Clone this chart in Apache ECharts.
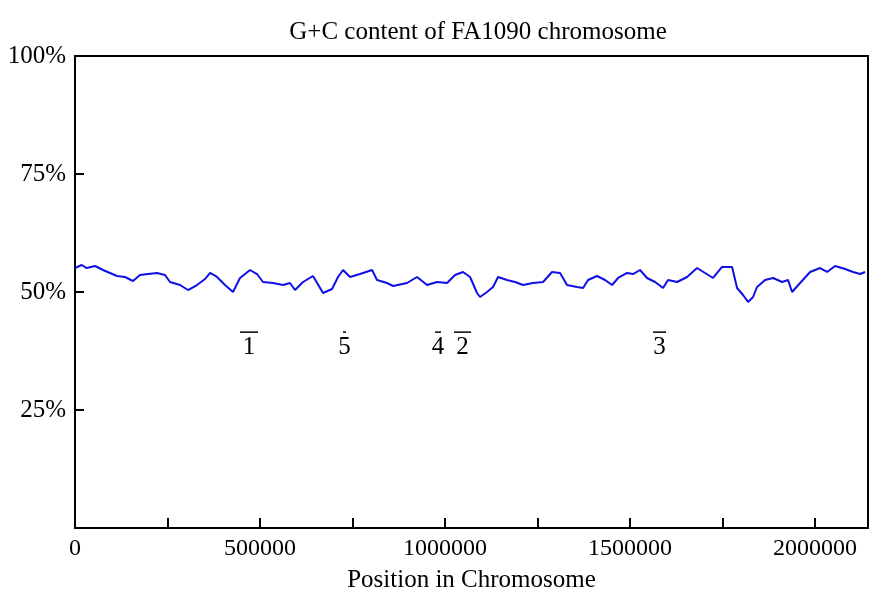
<!DOCTYPE html>
<html>
<head>
<meta charset="utf-8">
<script src="https://cdn.jsdelivr.net/npm/echarts@6/dist/echarts.min.js"></script>
<style>html,body{margin:0;padding:0;background:#fff}#c{width:880px;height:599px}</style>
</head>
<body>
<div id="c"></div>
<script>
// Position along chromosome (bp)
const positions = [0,18100,31600,54100,75700,94600,113500,135100,156800,175700,197300,221600,243200,256800,283800,305400,329700,351400,364900,383800,405400,427000,445900,473000,491900,508100,535100,562200,581100,594600,616200,643200,670300,694600,710800,724300,743200,770300,802700,816200,843200,859500,897300,924300,951400,978400,1005400,1027000,1048600,1067600,1086500,1094600,1113500,1129700,1143200,1167600,1189200,1210800,1237800,1264900,1289200,1310800,1329700,1356800,1373000,1386500,1410800,1432400,1451400,1467600,1491900,1508100,1527000,1545900,1567600,1589200,1602700,1627000,1654100,1681100,1702700,1724300,1748600,1775700,1789200,1805400,1818900,1832400,1843200,1864900,1886500,1910800,1927000,1937800,1959500,1986500,2013500,2032400,2054100,2081100,2102700,2121600,2135100];
// G+C content (%)
const gcContent = [55.08,55.72,55.08,55.51,54.66,54.03,53.39,53.18,52.33,53.60,53.81,54.03,53.60,52.12,51.48,50.42,51.48,52.75,54.03,53.18,51.48,50.00,52.97,54.66,53.81,52.12,51.91,51.48,51.91,50.42,52.12,53.39,49.79,50.64,53.18,54.66,53.18,53.81,54.66,52.54,51.91,51.27,51.91,53.18,51.48,52.12,51.91,53.60,54.24,53.18,49.79,48.94,50.00,51.06,53.18,52.54,52.12,51.48,51.91,52.12,54.24,54.03,51.48,51.06,50.85,52.54,53.39,52.54,51.48,52.97,54.03,53.81,54.66,52.97,52.12,50.85,52.54,52.12,53.18,55.08,54.03,52.97,55.30,55.30,50.85,49.36,47.88,48.94,51.06,52.54,52.97,52.12,52.54,50.00,51.91,54.24,55.08,54.24,55.51,54.87,54.24,53.81,54.24];

// Marked regions
const regionLabels = ['1','5','4','2','3'];
const regionStart = [445900,724300,973000,1024300,1562200];
const regionEnd   = [494600,732400,989200,1070300,1597300];

const yTicks = [0,25,50,75,100];
const xMax = 2143000;

const FONT = '"Liberation Serif","Times New Roman",serif';
const BAR_LEVEL = 41.5;

const chart = echarts.init(document.getElementById('c'));
const lineData = positions.map((p,i)=>[p,gcContent[i]]);
const regionData = regionStart.map((s,i)=>[s,regionEnd[i]]);

chart.setOption({
  animation:false,
  backgroundColor:'#fff',
  title:{
    text:'G+C content of FA1090 chromosome',
    left:473, textAlign:'center', top:15,
    textStyle:{fontFamily:FONT,fontSize:25,fontWeight:'normal',color:'#000'}
  },
  grid:{left:75,right:12,top:56,bottom:71,show:true,borderColor:'#000',borderWidth:2,backgroundColor:'transparent'},
  xAxis:{
    type:'value',min:0,max:xMax,interval:250000,
    name:'Position in Chromosome',nameLocation:'middle',nameGap:40,
    nameTextStyle:{fontFamily:FONT,fontSize:25,color:'#000'},
    axisLine:{show:true,lineStyle:{color:'#000',width:2}},
    axisTick:{show:true,inside:true,length:10,lineStyle:{color:'#000',width:2}},
    splitLine:{show:false},
    axisLabel:{
      showMaxLabel:false,margin:9,
      fontFamily:FONT,fontSize:24,color:'#000',
      formatter:v=> (v%500000===0)? String(v) : ''
    }
  },
  yAxis:{
    type:'value',min:yTicks[0],max:yTicks[yTicks.length-1],interval:25,
    axisLine:{show:true,lineStyle:{color:'#000',width:2}},
    axisTick:{show:true,inside:true,length:9,lineStyle:{color:'#000',width:2}},
    splitLine:{show:false},
    axisLabel:{
      margin:9,fontFamily:FONT,fontSize:25,color:'#000',
      formatter:v=> v===0 ? '' : v+'%'
    }
  },
  series:[
    {
      type:'line',data:lineData,showSymbol:false,symbol:'none',
      lineStyle:{color:'#0f0fe6',width:2},
      z:3
    },
    {
      type:'custom',data:regionData,z:4,
      renderItem:function(params,api){
        const s=api.coord([api.value(0),BAR_LEVEL]);
        const e=api.coord([api.value(1),BAR_LEVEL]);
        const cx=(s[0]+e[0])/2;
        return {type:'group',children:[
          {type:'line',shape:{x1:s[0],y1:s[1],x2:e[0],y2:e[1]},style:{stroke:'#000',lineWidth:1.5}},
          {type:'text',style:{text:regionLabels[params.dataIndex],x:cx,y:s[1]+3,
            textAlign:'center',textVerticalAlign:'top',
            font:'25px '+FONT,fill:'#000'}}
        ]};
      }
    }
  ]
});
</script>
</body>
</html>
